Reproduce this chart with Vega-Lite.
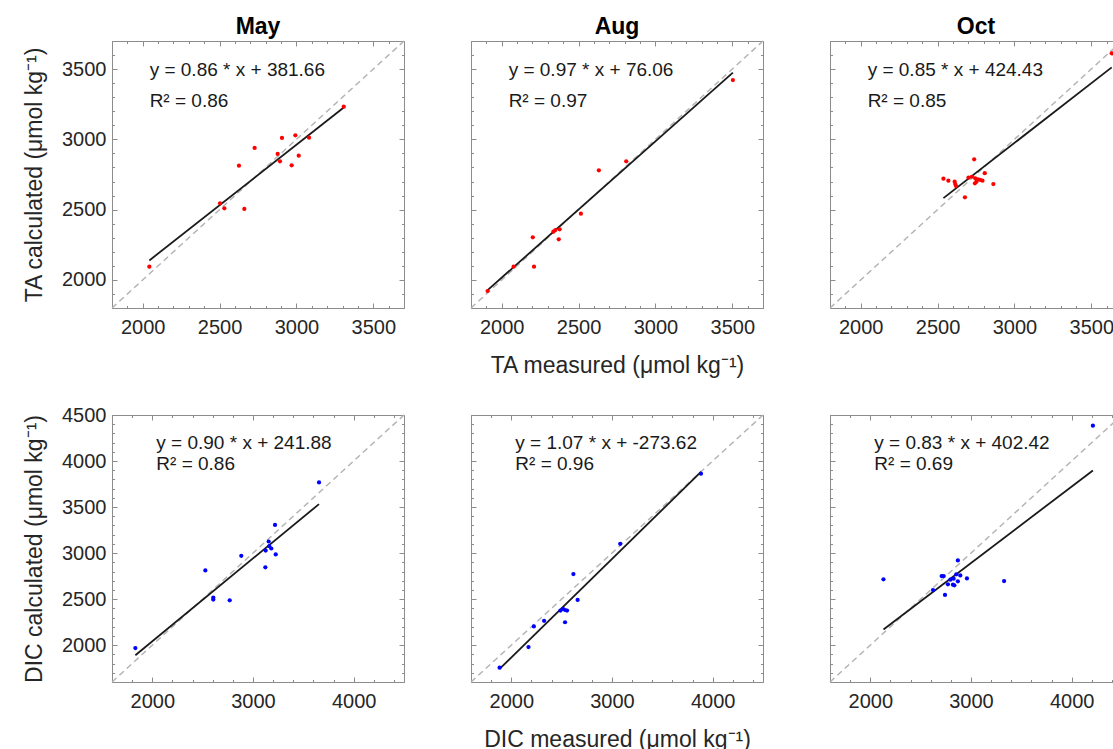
{
  "$schema": "https://vega.github.io/schema/vega-lite/v6.json",
  "padding": {"left": 22, "top": 15, "right": 0, "bottom": 0},
  "background": "white",
  "config": {
    "font": "Liberation Sans",
    "view": {"stroke": "#8c8c8c", "strokeWidth": 1},
    "axis": {"domain": false, "grid": false, "tickColor": "#8c8c8c", "tickWidth": 1, "labelFont": "Liberation Sans", "labelFontSize": 20, "labelColor": "#262626", "labelFlush": false, "labelOverlap": false, "format": "d", "titleFont": "Liberation Sans", "titleFontSize": 23, "titleFontWeight": "normal", "titleColor": "#262626"},
    "title": {"font": "Liberation Sans", "fontSize": 23, "fontWeight": "bold", "color": "#000000"}
  },
  "datasets": {
    "diag": [
      {"row": "TA", "a": 1800, "b": 1800}, {"row": "TA", "a": 3700, "b": 3700},
      {"row": "DIC", "a": 1600, "b": 1600}, {"row": "DIC", "a": 4500, "b": 4500}
    ],
    "fit": [
      {"panel": "TA-May", "a": 2043, "b": 2138.6}, {"panel": "TA-May", "a": 3308, "b": 3226.5},
      {"panel": "TA-Aug", "a": 1908, "b": 1926.8}, {"panel": "TA-Aug", "a": 3504, "b": 3474.9},
      {"panel": "TA-Oct", "a": 2538, "b": 2581.7}, {"panel": "TA-Oct", "a": 3633, "b": 3512.5},
      {"panel": "DIC-May", "a": 1832, "b": 1890.7}, {"panel": "DIC-May", "a": 3656, "b": 3532.3},
      {"panel": "DIC-Aug", "a": 1884, "b": 1742.3}, {"panel": "DIC-Aug", "a": 3884, "b": 3882.3},
      {"panel": "DIC-Oct", "a": 2131, "b": 2171.1}, {"panel": "DIC-Oct", "a": 4211, "b": 3897.6}
    ],
    "eq": [
      {"panel": "TA-May", "a": 2045, "b": 3451, "label": "y = 0.86 * x + 381.66"},
      {"panel": "TA-May", "a": 2045, "b": 3232, "label": "R² = 0.86"},
      {"panel": "TA-Aug", "a": 2045, "b": 3451, "label": "y = 0.97 * x + 76.06"},
      {"panel": "TA-Aug", "a": 2045, "b": 3232, "label": "R² = 0.97"},
      {"panel": "TA-Oct", "a": 2045, "b": 3451, "label": "y = 0.85 * x + 424.43"},
      {"panel": "TA-Oct", "a": 2045, "b": 3232, "label": "R² = 0.85"},
      {"panel": "DIC-May", "a": 2040, "b": 4132, "label": "y = 0.90 * x + 241.88"},
      {"panel": "DIC-May", "a": 2040, "b": 3905, "label": "R² = 0.86"},
      {"panel": "DIC-Aug", "a": 2040, "b": 4132, "label": "y = 1.07 * x + -273.62"},
      {"panel": "DIC-Aug", "a": 2040, "b": 3905, "label": "R² = 0.96"},
      {"panel": "DIC-Oct", "a": 2040, "b": 4132, "label": "y = 0.83 * x + 402.42"},
      {"panel": "DIC-Oct", "a": 2040, "b": 3905, "label": "R² = 0.69"}
    ],
    "pts": [
      {"panel": "TA-May", "measured": 2043, "calculated": 2094},
      {"panel": "TA-May", "measured": 2503, "calculated": 2545},
      {"panel": "TA-May", "measured": 2531, "calculated": 2509},
      {"panel": "TA-May", "measured": 2661, "calculated": 2505},
      {"panel": "TA-May", "measured": 2626, "calculated": 2813},
      {"panel": "TA-May", "measured": 2728, "calculated": 2939},
      {"panel": "TA-May", "measured": 2878, "calculated": 2896},
      {"panel": "TA-May", "measured": 2893, "calculated": 2844},
      {"panel": "TA-May", "measured": 2906, "calculated": 3010},
      {"panel": "TA-May", "measured": 2969, "calculated": 2815},
      {"panel": "TA-May", "measured": 2993, "calculated": 3029},
      {"panel": "TA-May", "measured": 3015, "calculated": 2884},
      {"panel": "TA-May", "measured": 3082, "calculated": 3012},
      {"panel": "TA-May", "measured": 3308, "calculated": 3233},
      {"panel": "TA-Aug", "measured": 1908, "calculated": 1921},
      {"panel": "TA-Aug", "measured": 2077, "calculated": 2094},
      {"panel": "TA-Aug", "measured": 2202, "calculated": 2303},
      {"panel": "TA-Aug", "measured": 2210, "calculated": 2094},
      {"panel": "TA-Aug", "measured": 2336, "calculated": 2343},
      {"panel": "TA-Aug", "measured": 2349, "calculated": 2355},
      {"panel": "TA-Aug", "measured": 2377, "calculated": 2360},
      {"panel": "TA-Aug", "measured": 2371, "calculated": 2289},
      {"panel": "TA-Aug", "measured": 2515, "calculated": 2471},
      {"panel": "TA-Aug", "measured": 2632, "calculated": 2780},
      {"panel": "TA-Aug", "measured": 2810, "calculated": 2844},
      {"panel": "TA-Aug", "measured": 3504, "calculated": 3422},
      {"panel": "TA-Oct", "measured": 2538, "calculated": 2720},
      {"panel": "TA-Oct", "measured": 2570, "calculated": 2706},
      {"panel": "TA-Oct", "measured": 2611, "calculated": 2699},
      {"panel": "TA-Oct", "measured": 2615, "calculated": 2682},
      {"panel": "TA-Oct", "measured": 2620, "calculated": 2668},
      {"panel": "TA-Oct", "measured": 2678, "calculated": 2588},
      {"panel": "TA-Oct", "measured": 2701, "calculated": 2727},
      {"panel": "TA-Oct", "measured": 2723, "calculated": 2734},
      {"panel": "TA-Oct", "measured": 2738, "calculated": 2858},
      {"panel": "TA-Oct", "measured": 2745, "calculated": 2723},
      {"panel": "TA-Oct", "measured": 2753, "calculated": 2699},
      {"panel": "TA-Oct", "measured": 2762, "calculated": 2716},
      {"panel": "TA-Oct", "measured": 2777, "calculated": 2711},
      {"panel": "TA-Oct", "measured": 2792, "calculated": 2706},
      {"panel": "TA-Oct", "measured": 2807, "calculated": 2759},
      {"panel": "TA-Oct", "measured": 2863, "calculated": 2682},
      {"panel": "TA-Oct", "measured": 2743, "calculated": 2687},
      {"panel": "TA-Oct", "measured": 3633, "calculated": 3612},
      {"panel": "DIC-May", "measured": 1832, "calculated": 1968},
      {"panel": "DIC-May", "measured": 2527, "calculated": 2812},
      {"panel": "DIC-May", "measured": 2606, "calculated": 2517},
      {"panel": "DIC-May", "measured": 2606, "calculated": 2495},
      {"panel": "DIC-May", "measured": 2769, "calculated": 2487},
      {"panel": "DIC-May", "measured": 2884, "calculated": 2971},
      {"panel": "DIC-May", "measured": 3123, "calculated": 2845},
      {"panel": "DIC-May", "measured": 3126, "calculated": 3028},
      {"panel": "DIC-May", "measured": 3156, "calculated": 3126},
      {"panel": "DIC-May", "measured": 3162, "calculated": 3075},
      {"panel": "DIC-May", "measured": 3182, "calculated": 3050},
      {"panel": "DIC-May", "measured": 3226, "calculated": 2985},
      {"panel": "DIC-May", "measured": 3219, "calculated": 3306},
      {"panel": "DIC-May", "measured": 3656, "calculated": 3768},
      {"panel": "DIC-Aug", "measured": 1884, "calculated": 1755},
      {"panel": "DIC-Aug", "measured": 2171, "calculated": 1979},
      {"panel": "DIC-Aug", "measured": 2224, "calculated": 2203},
      {"panel": "DIC-Aug", "measured": 2326, "calculated": 2264},
      {"panel": "DIC-Aug", "measured": 2488, "calculated": 2376},
      {"panel": "DIC-Aug", "measured": 2514, "calculated": 2393},
      {"panel": "DIC-Aug", "measured": 2534, "calculated": 2382},
      {"panel": "DIC-Aug", "measured": 2554, "calculated": 2376},
      {"panel": "DIC-Aug", "measured": 2534, "calculated": 2249},
      {"panel": "DIC-Aug", "measured": 2659, "calculated": 2491},
      {"panel": "DIC-Aug", "measured": 2617, "calculated": 2772},
      {"panel": "DIC-Aug", "measured": 3082, "calculated": 3101},
      {"panel": "DIC-Aug", "measured": 3884, "calculated": 3862},
      {"panel": "DIC-Oct", "measured": 2131, "calculated": 2715},
      {"panel": "DIC-Oct", "measured": 2623, "calculated": 2599},
      {"panel": "DIC-Oct", "measured": 2709, "calculated": 2750},
      {"panel": "DIC-Oct", "measured": 2729, "calculated": 2750},
      {"panel": "DIC-Oct", "measured": 2742, "calculated": 2545},
      {"panel": "DIC-Oct", "measured": 2771, "calculated": 2661},
      {"panel": "DIC-Oct", "measured": 2795, "calculated": 2711},
      {"panel": "DIC-Oct", "measured": 2821, "calculated": 2657},
      {"panel": "DIC-Oct", "measured": 2835, "calculated": 2650},
      {"panel": "DIC-Oct", "measured": 2828, "calculated": 2722},
      {"panel": "DIC-Oct", "measured": 2854, "calculated": 2769},
      {"panel": "DIC-Oct", "measured": 2870, "calculated": 2693},
      {"panel": "DIC-Oct", "measured": 2870, "calculated": 2920},
      {"panel": "DIC-Oct", "measured": 2894, "calculated": 2758},
      {"panel": "DIC-Oct", "measured": 2960, "calculated": 2725},
      {"panel": "DIC-Oct", "measured": 3329, "calculated": 2696},
      {"panel": "DIC-Oct", "measured": 4211, "calculated": 4384}
    ]
  },
  "columns": 3,
  "spacing": {"row": 107, "column": 67},
  "bounds": "flush",
  "concat": [
    {
      "width": 292, "height": 267,
      "title": {"text": "May", "frame": "group", "baseline": "alphabetic", "offset": -19},
      "resolve": {"axis": {"x": "independent", "y": "independent"}},
      "layer": [
        {"data": {"name": "diag"}, "transform": [{"filter": "datum.row === 'TA'"}],
         "mark": {"type": "line", "color": "#b3b3b3", "strokeWidth": 1.5, "strokeDash": [6, 4]},
         "encoding": {
           "x": {"field": "a", "type": "quantitative", "scale": {"domain": [1800, 3700], "nice": false, "zero": false}, "axis": {"orient": "bottom", "values": [2000, 2500, 3000, 3500], "tickSize": -5, "labelPadding": 14, "title": null}},
           "y": {"field": "b", "type": "quantitative", "scale": {"domain": [1800, 3700], "nice": false, "zero": false}, "axis": {"orient": "left", "values": [2000, 2500, 3000, 3500], "tickSize": -5, "labelPadding": 11, "title": "TA calculated (μmol kg⁻¹)", "titleX": -71, "titleY": 133.5, "titleBaseline": "alphabetic"}}}},
        {"data": {"name": "fit"}, "transform": [{"filter": "datum.panel === 'TA-May'"}],
         "mark": {"type": "line", "color": "#1a1a1a", "strokeWidth": 1.8},
         "encoding": {
           "x": {"field": "a", "type": "quantitative", "scale": {"domain": [1800, 3700], "nice": false, "zero": false}, "axis": {"orient": "top", "values": [2000, 2500, 3000, 3500], "tickSize": -5, "labels": false, "title": null}},
           "y": {"field": "b", "type": "quantitative", "scale": {"domain": [1800, 3700], "nice": false, "zero": false}, "axis": {"orient": "right", "values": [2000, 2500, 3000, 3500], "tickSize": -5, "labels": false, "title": null}}}},
        {"data": {"name": "pts"}, "transform": [{"filter": "datum.panel === 'TA-May'"}],
         "mark": {"type": "circle", "color": "#ff0000", "size": 18, "opacity": 1},
         "encoding": {
           "x": {"field": "measured", "type": "quantitative", "scale": {"domain": [1800, 3700], "nice": false, "zero": false}, "axis": {"orient": "bottom", "values": [1800,1900,2000,2100,2200,2300,2400,2500,2600,2700,2800,2900,3000,3100,3200,3300,3400,3500,3600,3700], "tickSize": -2.5, "labels": false, "title": null}},
           "y": {"field": "calculated", "type": "quantitative", "scale": {"domain": [1800, 3700], "nice": false, "zero": false}, "axis": {"orient": "left", "values": [1800,1900,2000,2100,2200,2300,2400,2500,2600,2700,2800,2900,3000,3100,3200,3300,3400,3500,3600,3700], "tickSize": -2.5, "labels": false, "title": null}}}},
        {"data": {"name": "eq"}, "transform": [{"filter": "datum.panel === 'TA-May'"}],
         "mark": {"type": "text", "align": "left", "baseline": "alphabetic", "fontSize": 19, "color": "#1a1a1a"},
         "encoding": {
           "x": {"field": "a", "type": "quantitative", "scale": {"domain": [1800, 3700], "nice": false, "zero": false}, "axis": {"orient": "top", "values": [1800,1900,2000,2100,2200,2300,2400,2500,2600,2700,2800,2900,3000,3100,3200,3300,3400,3500,3600,3700], "tickSize": -2.5, "labels": false, "title": null}},
           "y": {"field": "b", "type": "quantitative", "scale": {"domain": [1800, 3700], "nice": false, "zero": false}, "axis": {"orient": "right", "values": [1800,1900,2000,2100,2200,2300,2400,2500,2600,2700,2800,2900,3000,3100,3200,3300,3400,3500,3600,3700], "tickSize": -2.5, "labels": false, "title": null}},
           "text": {"field": "label"}}}
      ]
    },
    {
      "width": 292, "height": 267,
      "title": {"text": "Aug", "frame": "group", "baseline": "alphabetic", "offset": -19},
      "resolve": {"axis": {"x": "independent", "y": "independent"}},
      "layer": [
        {"data": {"name": "diag"}, "transform": [{"filter": "datum.row === 'TA'"}],
         "mark": {"type": "line", "color": "#b3b3b3", "strokeWidth": 1.5, "strokeDash": [6, 4]},
         "encoding": {
           "x": {"field": "a", "type": "quantitative", "scale": {"domain": [1800, 3700], "nice": false, "zero": false}, "axis": {"orient": "bottom", "values": [2000, 2500, 3000, 3500], "tickSize": -5, "labelPadding": 14, "title": "TA measured (μmol kg⁻¹)", "titleX": 146, "titleY": 64, "titleBaseline": "alphabetic"}},
           "y": {"field": "b", "type": "quantitative", "scale": {"domain": [1800, 3700], "nice": false, "zero": false}, "axis": {"orient": "left", "values": [2000, 2500, 3000, 3500], "tickSize": -5, "labels": false, "title": null}}}},
        {"data": {"name": "fit"}, "transform": [{"filter": "datum.panel === 'TA-Aug'"}],
         "mark": {"type": "line", "color": "#1a1a1a", "strokeWidth": 1.8},
         "encoding": {
           "x": {"field": "a", "type": "quantitative", "scale": {"domain": [1800, 3700], "nice": false, "zero": false}, "axis": {"orient": "top", "values": [2000, 2500, 3000, 3500], "tickSize": -5, "labels": false, "title": null}},
           "y": {"field": "b", "type": "quantitative", "scale": {"domain": [1800, 3700], "nice": false, "zero": false}, "axis": {"orient": "right", "values": [2000, 2500, 3000, 3500], "tickSize": -5, "labels": false, "title": null}}}},
        {"data": {"name": "pts"}, "transform": [{"filter": "datum.panel === 'TA-Aug'"}],
         "mark": {"type": "circle", "color": "#ff0000", "size": 18, "opacity": 1},
         "encoding": {
           "x": {"field": "measured", "type": "quantitative", "scale": {"domain": [1800, 3700], "nice": false, "zero": false}, "axis": {"orient": "bottom", "values": [1800,1900,2000,2100,2200,2300,2400,2500,2600,2700,2800,2900,3000,3100,3200,3300,3400,3500,3600,3700], "tickSize": -2.5, "labels": false, "title": null}},
           "y": {"field": "calculated", "type": "quantitative", "scale": {"domain": [1800, 3700], "nice": false, "zero": false}, "axis": {"orient": "left", "values": [1800,1900,2000,2100,2200,2300,2400,2500,2600,2700,2800,2900,3000,3100,3200,3300,3400,3500,3600,3700], "tickSize": -2.5, "labels": false, "title": null}}}},
        {"data": {"name": "eq"}, "transform": [{"filter": "datum.panel === 'TA-Aug'"}],
         "mark": {"type": "text", "align": "left", "baseline": "alphabetic", "fontSize": 19, "color": "#1a1a1a"},
         "encoding": {
           "x": {"field": "a", "type": "quantitative", "scale": {"domain": [1800, 3700], "nice": false, "zero": false}, "axis": {"orient": "top", "values": [1800,1900,2000,2100,2200,2300,2400,2500,2600,2700,2800,2900,3000,3100,3200,3300,3400,3500,3600,3700], "tickSize": -2.5, "labels": false, "title": null}},
           "y": {"field": "b", "type": "quantitative", "scale": {"domain": [1800, 3700], "nice": false, "zero": false}, "axis": {"orient": "right", "values": [1800,1900,2000,2100,2200,2300,2400,2500,2600,2700,2800,2900,3000,3100,3200,3300,3400,3500,3600,3700], "tickSize": -2.5, "labels": false, "title": null}},
           "text": {"field": "label"}}}
      ]
    },
    {
      "width": 292, "height": 267,
      "title": {"text": "Oct", "frame": "group", "baseline": "alphabetic", "offset": -19},
      "resolve": {"axis": {"x": "independent", "y": "independent"}},
      "layer": [
        {"data": {"name": "diag"}, "transform": [{"filter": "datum.row === 'TA'"}],
         "mark": {"type": "line", "color": "#b3b3b3", "strokeWidth": 1.5, "strokeDash": [6, 4]},
         "encoding": {
           "x": {"field": "a", "type": "quantitative", "scale": {"domain": [1800, 3700], "nice": false, "zero": false}, "axis": {"orient": "bottom", "values": [2000, 2500, 3000, 3500], "tickSize": -5, "labelPadding": 14, "title": null}},
           "y": {"field": "b", "type": "quantitative", "scale": {"domain": [1800, 3700], "nice": false, "zero": false}, "axis": {"orient": "left", "values": [2000, 2500, 3000, 3500], "tickSize": -5, "labels": false, "title": null}}}},
        {"data": {"name": "fit"}, "transform": [{"filter": "datum.panel === 'TA-Oct'"}],
         "mark": {"type": "line", "color": "#1a1a1a", "strokeWidth": 1.8},
         "encoding": {
           "x": {"field": "a", "type": "quantitative", "scale": {"domain": [1800, 3700], "nice": false, "zero": false}, "axis": {"orient": "top", "values": [2000, 2500, 3000, 3500], "tickSize": -5, "labels": false, "title": null}},
           "y": {"field": "b", "type": "quantitative", "scale": {"domain": [1800, 3700], "nice": false, "zero": false}, "axis": {"orient": "right", "values": [2000, 2500, 3000, 3500], "tickSize": -5, "labels": false, "title": null}}}},
        {"data": {"name": "pts"}, "transform": [{"filter": "datum.panel === 'TA-Oct'"}],
         "mark": {"type": "circle", "color": "#ff0000", "size": 18, "opacity": 1},
         "encoding": {
           "x": {"field": "measured", "type": "quantitative", "scale": {"domain": [1800, 3700], "nice": false, "zero": false}, "axis": {"orient": "bottom", "values": [1800,1900,2000,2100,2200,2300,2400,2500,2600,2700,2800,2900,3000,3100,3200,3300,3400,3500,3600,3700], "tickSize": -2.5, "labels": false, "title": null}},
           "y": {"field": "calculated", "type": "quantitative", "scale": {"domain": [1800, 3700], "nice": false, "zero": false}, "axis": {"orient": "left", "values": [1800,1900,2000,2100,2200,2300,2400,2500,2600,2700,2800,2900,3000,3100,3200,3300,3400,3500,3600,3700], "tickSize": -2.5, "labels": false, "title": null}}}},
        {"data": {"name": "eq"}, "transform": [{"filter": "datum.panel === 'TA-Oct'"}],
         "mark": {"type": "text", "align": "left", "baseline": "alphabetic", "fontSize": 19, "color": "#1a1a1a"},
         "encoding": {
           "x": {"field": "a", "type": "quantitative", "scale": {"domain": [1800, 3700], "nice": false, "zero": false}, "axis": {"orient": "top", "values": [1800,1900,2000,2100,2200,2300,2400,2500,2600,2700,2800,2900,3000,3100,3200,3300,3400,3500,3600,3700], "tickSize": -2.5, "labels": false, "title": null}},
           "y": {"field": "b", "type": "quantitative", "scale": {"domain": [1800, 3700], "nice": false, "zero": false}, "axis": {"orient": "right", "values": [1800,1900,2000,2100,2200,2300,2400,2500,2600,2700,2800,2900,3000,3100,3200,3300,3400,3500,3600,3700], "tickSize": -2.5, "labels": false, "title": null}},
           "text": {"field": "label"}}}
      ]
    },
    {
      "width": 292, "height": 267,
      "resolve": {"axis": {"x": "independent", "y": "independent"}},
      "layer": [
        {"data": {"name": "diag"}, "transform": [{"filter": "datum.row === 'DIC'"}],
         "mark": {"type": "line", "color": "#b3b3b3", "strokeWidth": 1.5, "strokeDash": [6, 4]},
         "encoding": {
           "x": {"field": "a", "type": "quantitative", "scale": {"domain": [1600, 4500], "nice": false, "zero": false}, "axis": {"orient": "bottom", "values": [2000, 3000, 4000], "tickSize": -5, "labelPadding": 14, "title": null}},
           "y": {"field": "b", "type": "quantitative", "scale": {"domain": [1600, 4500], "nice": false, "zero": false}, "axis": {"orient": "left", "values": [2000, 2500, 3000, 3500, 4000, 4500], "tickSize": -5, "labelPadding": 11, "title": "DIC calculated (μmol kg⁻¹)", "titleX": -71, "titleY": 133.5, "titleBaseline": "alphabetic"}}}},
        {"data": {"name": "fit"}, "transform": [{"filter": "datum.panel === 'DIC-May'"}],
         "mark": {"type": "line", "color": "#1a1a1a", "strokeWidth": 1.8},
         "encoding": {
           "x": {"field": "a", "type": "quantitative", "scale": {"domain": [1600, 4500], "nice": false, "zero": false}, "axis": {"orient": "top", "values": [2000, 3000, 4000], "tickSize": -5, "labels": false, "title": null}},
           "y": {"field": "b", "type": "quantitative", "scale": {"domain": [1600, 4500], "nice": false, "zero": false}, "axis": {"orient": "right", "values": [2000, 2500, 3000, 3500, 4000, 4500], "tickSize": -5, "labels": false, "title": null}}}},
        {"data": {"name": "pts"}, "transform": [{"filter": "datum.panel === 'DIC-May'"}],
         "mark": {"type": "circle", "color": "#0000ff", "size": 18, "opacity": 1},
         "encoding": {
           "x": {"field": "measured", "type": "quantitative", "scale": {"domain": [1600, 4500], "nice": false, "zero": false}, "axis": {"orient": "bottom", "values": [1600,1800,2000,2200,2400,2600,2800,3000,3200,3400,3600,3800,4000,4200,4400], "tickSize": -2.5, "labels": false, "title": null}},
           "y": {"field": "calculated", "type": "quantitative", "scale": {"domain": [1600, 4500], "nice": false, "zero": false}, "axis": {"orient": "left", "values": [1600,1700,1800,1900,2000,2100,2200,2300,2400,2500,2600,2700,2800,2900,3000,3100,3200,3300,3400,3500,3600,3700,3800,3900,4000,4100,4200,4300,4400,4500], "tickSize": -2.5, "labels": false, "title": null}}}},
        {"data": {"name": "eq"}, "transform": [{"filter": "datum.panel === 'DIC-May'"}],
         "mark": {"type": "text", "align": "left", "baseline": "alphabetic", "fontSize": 19, "color": "#1a1a1a"},
         "encoding": {
           "x": {"field": "a", "type": "quantitative", "scale": {"domain": [1600, 4500], "nice": false, "zero": false}, "axis": {"orient": "top", "values": [1600,1800,2000,2200,2400,2600,2800,3000,3200,3400,3600,3800,4000,4200,4400], "tickSize": -2.5, "labels": false, "title": null}},
           "y": {"field": "b", "type": "quantitative", "scale": {"domain": [1600, 4500], "nice": false, "zero": false}, "axis": {"orient": "right", "values": [1600,1700,1800,1900,2000,2100,2200,2300,2400,2500,2600,2700,2800,2900,3000,3100,3200,3300,3400,3500,3600,3700,3800,3900,4000,4100,4200,4300,4400,4500], "tickSize": -2.5, "labels": false, "title": null}},
           "text": {"field": "label"}}}
      ]
    },
    {
      "width": 292, "height": 267,
      "resolve": {"axis": {"x": "independent", "y": "independent"}},
      "layer": [
        {"data": {"name": "diag"}, "transform": [{"filter": "datum.row === 'DIC'"}],
         "mark": {"type": "line", "color": "#b3b3b3", "strokeWidth": 1.5, "strokeDash": [6, 4]},
         "encoding": {
           "x": {"field": "a", "type": "quantitative", "scale": {"domain": [1600, 4500], "nice": false, "zero": false}, "axis": {"orient": "bottom", "values": [2000, 3000, 4000], "tickSize": -5, "labelPadding": 14, "title": "DIC measured (μmol kg⁻¹)", "titleX": 146, "titleY": 64, "titleBaseline": "alphabetic"}},
           "y": {"field": "b", "type": "quantitative", "scale": {"domain": [1600, 4500], "nice": false, "zero": false}, "axis": {"orient": "left", "values": [2000, 2500, 3000, 3500, 4000, 4500], "tickSize": -5, "labels": false, "title": null}}}},
        {"data": {"name": "fit"}, "transform": [{"filter": "datum.panel === 'DIC-Aug'"}],
         "mark": {"type": "line", "color": "#1a1a1a", "strokeWidth": 1.8},
         "encoding": {
           "x": {"field": "a", "type": "quantitative", "scale": {"domain": [1600, 4500], "nice": false, "zero": false}, "axis": {"orient": "top", "values": [2000, 3000, 4000], "tickSize": -5, "labels": false, "title": null}},
           "y": {"field": "b", "type": "quantitative", "scale": {"domain": [1600, 4500], "nice": false, "zero": false}, "axis": {"orient": "right", "values": [2000, 2500, 3000, 3500, 4000, 4500], "tickSize": -5, "labels": false, "title": null}}}},
        {"data": {"name": "pts"}, "transform": [{"filter": "datum.panel === 'DIC-Aug'"}],
         "mark": {"type": "circle", "color": "#0000ff", "size": 18, "opacity": 1},
         "encoding": {
           "x": {"field": "measured", "type": "quantitative", "scale": {"domain": [1600, 4500], "nice": false, "zero": false}, "axis": {"orient": "bottom", "values": [1600,1800,2000,2200,2400,2600,2800,3000,3200,3400,3600,3800,4000,4200,4400], "tickSize": -2.5, "labels": false, "title": null}},
           "y": {"field": "calculated", "type": "quantitative", "scale": {"domain": [1600, 4500], "nice": false, "zero": false}, "axis": {"orient": "left", "values": [1600,1700,1800,1900,2000,2100,2200,2300,2400,2500,2600,2700,2800,2900,3000,3100,3200,3300,3400,3500,3600,3700,3800,3900,4000,4100,4200,4300,4400,4500], "tickSize": -2.5, "labels": false, "title": null}}}},
        {"data": {"name": "eq"}, "transform": [{"filter": "datum.panel === 'DIC-Aug'"}],
         "mark": {"type": "text", "align": "left", "baseline": "alphabetic", "fontSize": 19, "color": "#1a1a1a"},
         "encoding": {
           "x": {"field": "a", "type": "quantitative", "scale": {"domain": [1600, 4500], "nice": false, "zero": false}, "axis": {"orient": "top", "values": [1600,1800,2000,2200,2400,2600,2800,3000,3200,3400,3600,3800,4000,4200,4400], "tickSize": -2.5, "labels": false, "title": null}},
           "y": {"field": "b", "type": "quantitative", "scale": {"domain": [1600, 4500], "nice": false, "zero": false}, "axis": {"orient": "right", "values": [1600,1700,1800,1900,2000,2100,2200,2300,2400,2500,2600,2700,2800,2900,3000,3100,3200,3300,3400,3500,3600,3700,3800,3900,4000,4100,4200,4300,4400,4500], "tickSize": -2.5, "labels": false, "title": null}},
           "text": {"field": "label"}}}
      ]
    },
    {
      "width": 292, "height": 267,
      "resolve": {"axis": {"x": "independent", "y": "independent"}},
      "layer": [
        {"data": {"name": "diag"}, "transform": [{"filter": "datum.row === 'DIC'"}],
         "mark": {"type": "line", "color": "#b3b3b3", "strokeWidth": 1.5, "strokeDash": [6, 4]},
         "encoding": {
           "x": {"field": "a", "type": "quantitative", "scale": {"domain": [1600, 4500], "nice": false, "zero": false}, "axis": {"orient": "bottom", "values": [2000, 3000, 4000], "tickSize": -5, "labelPadding": 14, "title": null}},
           "y": {"field": "b", "type": "quantitative", "scale": {"domain": [1600, 4500], "nice": false, "zero": false}, "axis": {"orient": "left", "values": [2000, 2500, 3000, 3500, 4000, 4500], "tickSize": -5, "labels": false, "title": null}}}},
        {"data": {"name": "fit"}, "transform": [{"filter": "datum.panel === 'DIC-Oct'"}],
         "mark": {"type": "line", "color": "#1a1a1a", "strokeWidth": 1.8},
         "encoding": {
           "x": {"field": "a", "type": "quantitative", "scale": {"domain": [1600, 4500], "nice": false, "zero": false}, "axis": {"orient": "top", "values": [2000, 3000, 4000], "tickSize": -5, "labels": false, "title": null}},
           "y": {"field": "b", "type": "quantitative", "scale": {"domain": [1600, 4500], "nice": false, "zero": false}, "axis": {"orient": "right", "values": [2000, 2500, 3000, 3500, 4000, 4500], "tickSize": -5, "labels": false, "title": null}}}},
        {"data": {"name": "pts"}, "transform": [{"filter": "datum.panel === 'DIC-Oct'"}],
         "mark": {"type": "circle", "color": "#0000ff", "size": 18, "opacity": 1},
         "encoding": {
           "x": {"field": "measured", "type": "quantitative", "scale": {"domain": [1600, 4500], "nice": false, "zero": false}, "axis": {"orient": "bottom", "values": [1600,1800,2000,2200,2400,2600,2800,3000,3200,3400,3600,3800,4000,4200,4400], "tickSize": -2.5, "labels": false, "title": null}},
           "y": {"field": "calculated", "type": "quantitative", "scale": {"domain": [1600, 4500], "nice": false, "zero": false}, "axis": {"orient": "left", "values": [1600,1700,1800,1900,2000,2100,2200,2300,2400,2500,2600,2700,2800,2900,3000,3100,3200,3300,3400,3500,3600,3700,3800,3900,4000,4100,4200,4300,4400,4500], "tickSize": -2.5, "labels": false, "title": null}}}},
        {"data": {"name": "eq"}, "transform": [{"filter": "datum.panel === 'DIC-Oct'"}],
         "mark": {"type": "text", "align": "left", "baseline": "alphabetic", "fontSize": 19, "color": "#1a1a1a"},
         "encoding": {
           "x": {"field": "a", "type": "quantitative", "scale": {"domain": [1600, 4500], "nice": false, "zero": false}, "axis": {"orient": "top", "values": [1600,1800,2000,2200,2400,2600,2800,3000,3200,3400,3600,3800,4000,4200,4400], "tickSize": -2.5, "labels": false, "title": null}},
           "y": {"field": "b", "type": "quantitative", "scale": {"domain": [1600, 4500], "nice": false, "zero": false}, "axis": {"orient": "right", "values": [1600,1700,1800,1900,2000,2100,2200,2300,2400,2500,2600,2700,2800,2900,3000,3100,3200,3300,3400,3500,3600,3700,3800,3900,4000,4100,4200,4300,4400,4500], "tickSize": -2.5, "labels": false, "title": null}},
           "text": {"field": "label"}}}
      ]
    }
  ]
}
